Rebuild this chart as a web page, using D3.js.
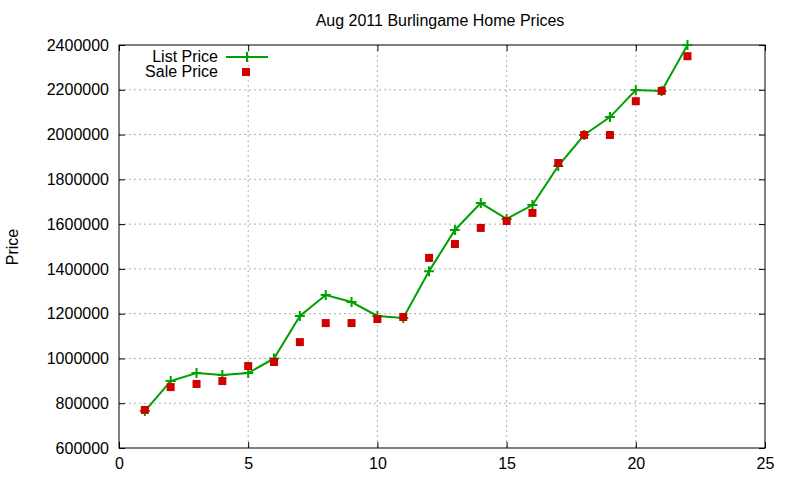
<!DOCTYPE html>
<html><head><meta charset="utf-8">
<script src="https://cdn.jsdelivr.net/npm/d3@7"></script>
<style>body{margin:0;background:#fff}text{font-family:"Liberation Sans",Arial,sans-serif;font-size:16px;fill:#000}</style>
</head><body><svg width="800" height="480"></svg>
<script>
const days=[1,2,3,4,5,6,7,8,9,10,11,12,13,14,15,16,17,18,19,20,21,22];
const listPrice=[765000,899000,935000,926000,935000,1000000,1190000,1283000,1252000,1190000,1181000,1390000,1574000,1694000,1623000,1685000,1860000,1998000,2078000,2199000,2195000,2400000];
const salePrice=[770000,872000,886000,899000,966000,984000,1073000,1158000,1158000,1176000,1185000,1449000,1511000,1583000,1614000,1650000,1873000,1998000,1998000,2149000,2195000,2350000];
const xTicks=[0,5,10,15,20,25];
const yTicks=[600000,800000,1000000,1200000,1400000,1600000,1800000,2000000,2200000,2400000];
const svg=d3.select("svg");
const L=119,R=765,T=45,B=448;
const x=d3.scaleLinear().domain([0,25]).range([L,R]);
const y=d3.scaleLinear().domain([600000,2400000]).range([B,T]);
const g=svg.append("g");
xTicks.slice(1,-1).forEach(t=>g.append("line").attr("x1",x(t)).attr("x2",x(t)).attr("y1",T).attr("y2",B).attr("stroke","#999").attr("stroke-dasharray","2,3").attr("stroke-width",0.8));
yTicks.slice(1,-1).forEach(t=>g.append("line").attr("x1",L).attr("x2",R).attr("y1",y(t)).attr("y2",y(t)).attr("stroke","#999").attr("stroke-dasharray","2,3").attr("stroke-width",0.8));
svg.append("g").attr("transform",`translate(0,${B})`).call(d3.axisBottom(x).tickValues(xTicks).tickSize(-6).tickPadding(10)).call(a=>{a.select(".domain").remove();a.selectAll("text").style("font-size","16px").style("font-family","Liberation Sans, Arial")});
svg.append("g").attr("transform",`translate(0,${T})`).call(d3.axisTop(x).tickValues(xTicks).tickSize(-6).tickFormat("")).call(a=>a.select(".domain").remove());
svg.append("g").attr("transform",`translate(${L},0)`).call(d3.axisLeft(y).tickValues(yTicks).tickSize(-6).tickPadding(10).tickFormat(d3.format("d"))).call(a=>{a.select(".domain").remove();a.selectAll("text").style("font-size","16px").style("font-family","Liberation Sans, Arial")});
svg.append("g").attr("transform",`translate(${R},0)`).call(d3.axisRight(y).tickValues(yTicks).tickSize(-6).tickFormat("")).call(a=>a.select(".domain").remove());
svg.append("rect").attr("x",L).attr("y",T).attr("width",R-L).attr("height",B-T).attr("fill","none").attr("stroke","#000");
svg.append("text").attr("x",440).attr("y",26).attr("text-anchor","middle").text("Aug 2011 Burlingame Home Prices");
svg.append("text").attr("transform","translate(18,247) rotate(-90)").attr("text-anchor","middle").text("Price");
const line=d3.line().x((d,i)=>x(days[i])).y(d=>y(d));
svg.append("path").datum(listPrice).attr("d",line).attr("fill","none").attr("stroke","#00a000").attr("stroke-width",2);
const plus=(sel,cx,cy)=>{sel.append("path").attr("d",`M${cx-5},${cy}H${cx+5}M${cx},${cy-5}V${cy+5}`).attr("stroke","#00a000").attr("stroke-width",2);};
listPrice.forEach((v,i)=>plus(svg,x(days[i]),y(v)));
svg.selectAll(".sq").data(salePrice).enter().append("rect").attr("x",(d,i)=>x(days[i])-4).attr("y",d=>y(d)-4).attr("width",8).attr("height",8).attr("fill","#d00000");
svg.append("text").attr("x",218).attr("y",62).attr("text-anchor","end").text("List Price");
svg.append("line").attr("x1",226).attr("x2",268).attr("y1",57).attr("y2",57).attr("stroke","#00a000").attr("stroke-width",2);
plus(svg,247,57);
svg.append("text").attr("x",218).attr("y",77).attr("text-anchor","end").text("Sale Price");
svg.append("rect").attr("x",242).attr("y",68).attr("width",8).attr("height",8).attr("fill","#d00000");
</script></body></html>
